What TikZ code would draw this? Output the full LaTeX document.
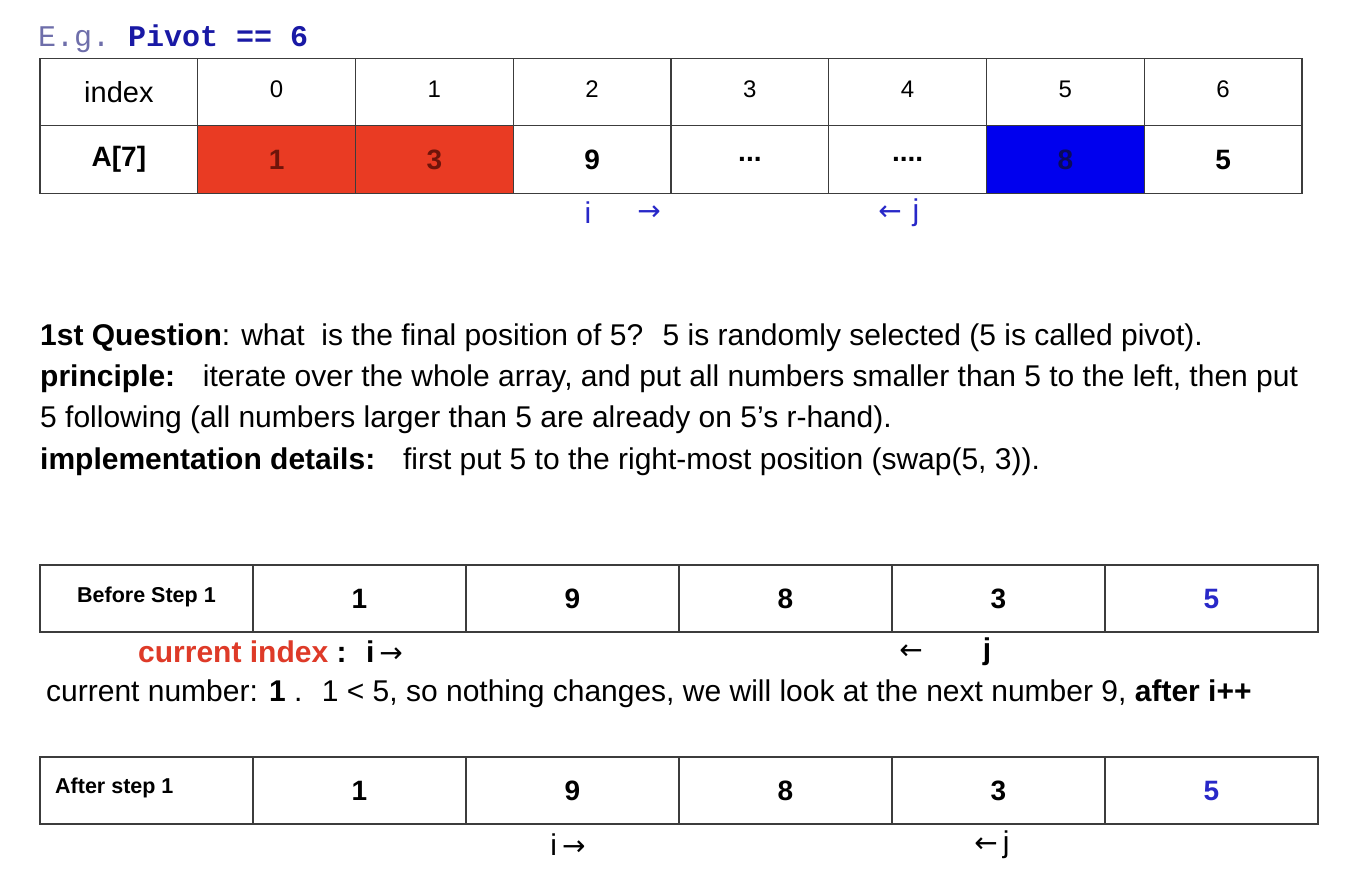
\documentclass[tikz,border=0pt]{standalone}
\usepackage{fontspec}
\setmainfont{Liberation Sans}
\setmonofont{Liberation Mono}
\newfontfamily\arrowfont{DejaVu Sans}
\newcommand{\ptrR}{{\arrowfont\mdseries\fontsize{28}{30}\selectfont →}}
\newcommand{\ptrL}{{\arrowfont\mdseries\fontsize{28}{30}\selectfont ←}}
\usepackage{tikz}
\definecolor{cellRed}{RGB}{233, 59, 35}
\definecolor{cellBlue}{RGB}{0, 0, 238}
\definecolor{darkRed}{RGB}{110, 20, 10}
\definecolor{darkNavy}{RGB}{10, 10, 90}
\definecolor{ptrBlue}{RGB}{40, 40, 200}
\definecolor{labRed}{RGB}{222, 58, 40}
\definecolor{egGray}{RGB}{110, 110, 170}
\definecolor{pivBlue}{RGB}{25, 25, 165}
\definecolor{gridGray}{RGB}{60, 60, 60}

\begin{document}
\begin{tikzpicture}[x=1pt, y=-1pt,
    cell/.style={draw=gridGray, line width=1.4pt, minimum width=157.75pt, minimum height=67.5pt, inner sep=0pt, font=\fontsize{24}{26}\selectfont},
    val/.style={cell, font=\bfseries\fontsize{28}{30}\selectfont},
    wide/.style={cell, minimum width=213pt, minimum height=67pt, font=\bfseries\fontsize{28}{30}\selectfont},
    ptr/.style={inner sep=0pt, text=ptrBlue, font=\fontsize{30}{32}\selectfont},
    lab/.style={anchor=west, inner sep=0pt, font=\bfseries\fontsize{21.5}{24}\selectfont},
    body/.style={anchor=base west, inner sep=0pt, font=\fontsize{30}{36}\selectfont}]
        \useasboundingbox (0,0) rectangle (1346,876);
        \fill[white] (0,0) rectangle (1346,876);

        \node[anchor=base west, inner sep=0pt, font=\ttfamily\fontsize{30}{32}\selectfont] (pivot) at (38,46) {\textcolor{egGray}{E.g.} \textcolor{pivBlue}{\bfseries Pivot == 6}};

        % index row
        \node[cell, font=\fontsize{29}{30}\selectfont] (hidx) at (118.9,92) {index};
        \foreach \k in {0,...,6}
          \node[cell, text height=17pt, text depth=5.5pt] (h\k) at ({276.6+157.75*\k},92) {\k};

        % array row
        \node[val] (alab) at (118.9,159.5) {A[7]};
        \node[val, fill=cellRed, text=darkRed] (a0) at (276.6,159.5) {1};
        \node[val, fill=cellRed, text=darkRed] (a1) at (434.4,159.5) {3};
        \node[val] (a2) at (592.1,159.5) {9};
        \node[val] (a3) at (749.9,159.5) {...};
        \node[val] (a4) at (907.6,159.5) {....};
        \node[val, fill=cellBlue, text=darkNavy] (a5) at (1065.4,159.5) {8};
        \node[val] (a6) at (1223.1,159.5) {5};

        \node[ptr] (ti) at (588,213) {i};
        \node[ptr] (tr) at (649,213) {\ptrR};
        \node[ptr] (tl) at (890,213) {\ptrL};
        \node[ptr] (tj) at (916,213) {j};

        % explanation
        \node[body] (q1) at (40,345) {\textbf{1st Question}: what \ is the final position of 5? \ 5 is randomly selected (5 is called pivot).};
        \node[body] (q2) at (40,386) {\textbf{principle:} \ \ iterate over the whole array, and put all numbers smaller than 5 to the left, then put};
        \node[body] (q3) at (40,427) {5 following (all numbers larger than 5 are already on 5's r-hand).};
        \node[body] (q4) at (40,469) {\textbf{implementation details:} \ \ first put 5 to the right-most position (swap(5, 3)).};

        % before step 1
        \node[wide] (blab) at (146.5,598.5) {};
        \node[lab] (btxt) at (77,597) {Before Step 1};
        \node[wide] (b0) at (359.5,598.5) {1};
        \node[wide] (b1) at (572.5,598.5) {9};
        \node[wide] (b2) at (785.5,598.5) {8};
        \node[wide] (b3) at (998.5,598.5) {3};
        \node[wide, text=ptrBlue] (b4) at (1211.5,598.5) {5};

        \node[body, font=\bfseries\fontsize{30}{36}\selectfont] (cur) at (138,662) {\textcolor{labRed}{current index} : \ i\,\ptrR};
        \node[ptr, text=black] (bl) at (911,652) {\ptrL};
        \node[ptr, text=black, font=\bfseries\fontsize{30}{32}\selectfont] (bj) at (987,652) {j};
        \node[body] (num) at (46,701) {current number: \textbf{1} . \ 1 < 5, so nothing changes, we will look at the next number 9, \textbf{after i++}};

        % after step 1
        \node[wide] (clab) at (146.5,790.5) {};
        \node[lab] (ctxt) at (55,788) {After step 1};
        \node[wide] (c0) at (359.5,790.5) {1};
        \node[wide] (c1) at (572.5,790.5) {9};
        \node[wide] (c2) at (785.5,790.5) {8};
        \node[wide] (c3) at (998.5,790.5) {3};
        \node[wide, text=ptrBlue] (c4) at (1211.5,790.5) {5};

        \node[ptr, text=black] (ci) at (568,845) {i\,\ptrR};
        \node[ptr, text=black] (cj) at (992,845) {\ptrL\,j};
      \end{tikzpicture}
\end{document}
